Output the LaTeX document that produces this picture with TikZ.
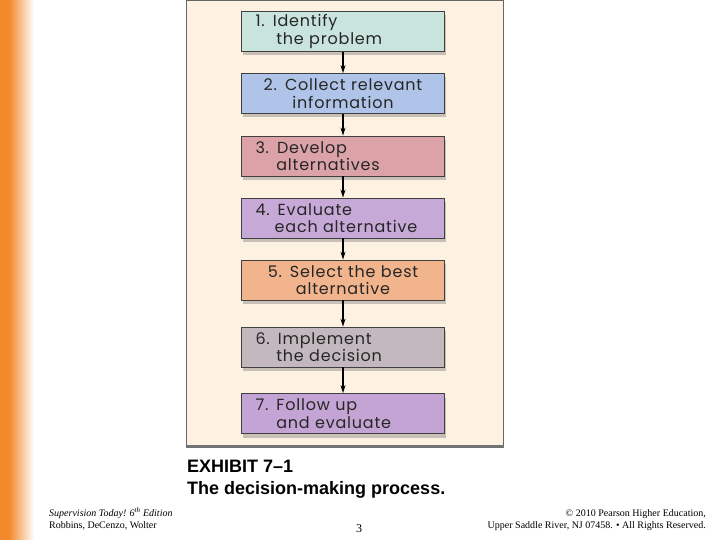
\documentclass[tikz,border=0pt]{standalone}
\usepackage{fontspec}
\setmainfont{Liberation Serif}
\newfontfamily\boxfont[LetterSpace=5]{Poppins}
\newfontfamily\capfont{Liberation Sans}
\usetikzlibrary{arrows.meta,shadows}

\definecolor{slideorange}{HTML}{F28A2C}
\definecolor{panelbg}{HTML}{FDF1E2}
\definecolor{stepA}{HTML}{C9E4DD}
\definecolor{stepB}{HTML}{AFC4E8}
\definecolor{stepC}{HTML}{DBA2A8}
\definecolor{stepD}{HTML}{C7A9D8}
\definecolor{stepE}{HTML}{F2B48C}
\definecolor{stepF}{HTML}{C4B8BF}
\definecolor{stepG}{HTML}{C4A4D4}

\begin{document}
\begin{tikzpicture}[x=1pt, y=-1pt,
    stepbox/.style={draw=black!75, line width=0.8pt, minimum width=203pt, minimum height=40pt,
        text width=175pt, inner xsep=14pt, inner ysep=0pt, align=left,
        font=\boxfont\fontsize{16}{17.5}\selectfont, text=black!85,
        drop shadow={shadow xshift=1pt, shadow yshift=-4pt, opacity=0.35, fill=black!60}},
    flow/.style={-{Stealth[length=8pt,width=5pt]}, line width=1.3pt, black}]
    \useasboundingbox (0,0) rectangle (720,540);
    % orange strip on the left
    \fill[slideorange] (0,0) rectangle (9,540);
    \shade[left color=slideorange, right color=white] (9,0) rectangle (34,540);
    % exhibit panel
    \fill[panelbg] (186,0) rectangle (503,447);
    \draw[black!60] (186,447) -- (186,0.5) -- (503,0.5) -- (503,447);
    \draw[black!55, line width=2.5pt] (186,446.5) -- (504,446.5);

    \node[stepbox, fill=stepA] at (343,31.5) (s1) {1. Identify\\\hspace*{1.3em}the problem};
    \node[stepbox, fill=stepB, align=center] at (343,93.5) (s2) {2. Collect relevant\\information};
    \node[stepbox, fill=stepC] at (343,156) (s3) {3. Develop\\\hspace*{1.3em}alternatives};
    \node[stepbox, fill=stepD] at (343,218) (s4) {4. Evaluate\\\hspace*{1.2em}each alternative};
    \node[stepbox, fill=stepE, align=center] at (343,280) (s5) {5. Select the best\\alternative};
    \node[stepbox, fill=stepF] at (343,347) (s6) {6. Implement\\\hspace*{1.3em}the decision};
    \node[stepbox, fill=stepG] at (343,413.5) (s7) {7. Follow up\\\hspace*{1.3em}and evaluate};

    \draw[flow] (s1) -- (s2);
    \draw[flow] (s2) -- (s3);
    \draw[flow] (s3) -- (s4);
    \draw[flow] (s4) -- (s5);
    \draw[flow] (s5) -- (s6);
    \draw[flow] (s6) -- (s7);

    % caption
    \node[anchor=base west, inner sep=0pt, font=\capfont\bfseries\fontsize{18}{20}\selectfont] at (187,472) (exh) {EXHIBIT 7–1};
    \node[anchor=base west, inner sep=0pt, font=\capfont\bfseries\fontsize{18}{20}\selectfont] at (187,494) (title) {The decision-making process.};

    % footer
    \node[anchor=base west, inner sep=0pt, font=\fontsize{10}{11}\selectfont\itshape] at (49,516) (book) {Supervision Today! 6\textsuperscript{th} Edition};
    \node[anchor=base west, inner sep=0pt, font=\fontsize{10}{11}\selectfont] at (49,528) (auth) {Robbins, DeCenzo, Wolter};
    \node[anchor=base, inner sep=0pt, font=\fontsize{12}{13}\selectfont] at (359,532) (page) {3};
    \node[anchor=base east, inner sep=0pt, font=\fontsize{10}{11}\selectfont] at (706,516) (copy) {© 2010 Pearson Higher Education,};
    \node[anchor=base east, inner sep=0pt, font=\fontsize{10}{11}\selectfont] at (706,528) (rights) {Upper Saddle River, NJ 07458. • All Rights Reserved.};
\end{tikzpicture}
\end{document}
